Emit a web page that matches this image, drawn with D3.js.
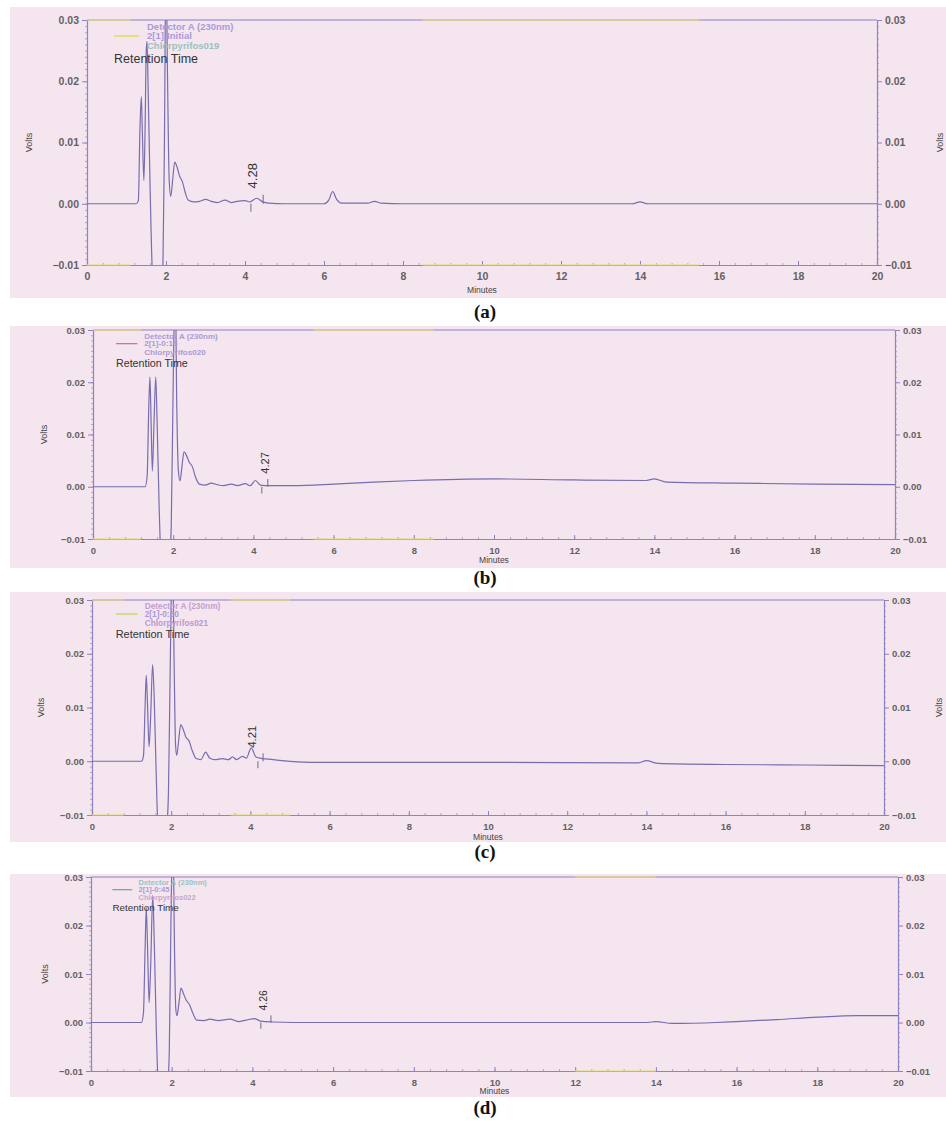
<!DOCTYPE html>
<html>
<head>
<meta charset="utf-8">
<script src="https://cdn.jsdelivr.net/npm/d3@7"></script>
<style>
  body { margin: 0; background: #fff; }
  svg { display: block; }
</style>
</head>
<body>
<div id="chart"></div>
<script>
// chromatogram traces, minutes vs volts
const minutesA = [0, 1.25, 1.30, 1.34, 1.375, 1.40, 1.44, 1.47, 1.50, 1.52, 1.55, 1.60, 1.66, 1.75, 1.85, 1.92, 1.96, 2.00, 2.04, 2.08, 2.12, 2.17, 2.22, 2.28, 2.34, 2.42, 2.48, 2.56, 2.7, 2.85, 3.0, 3.15, 3.3, 3.5, 3.65, 3.8, 4.0, 4.12, 4.3, 4.45, 4.6, 5.0, 6.0, 6.12, 6.22, 6.32, 6.45, 7.1, 7.28, 7.45, 8, 13.8, 14.0, 14.2, 20];
const voltsA = [0, 0, 0.0005, 0.012, 0.0175, 0.012, 0.0038, 0.012, 0.025, 0.0265, 0.018, 0.002, -0.012, -0.016, -0.016, -0.011, 0.01, 0.04, 0.02, 0.004, 0.0012, 0.004, 0.0068, 0.006, 0.0046, 0.0035, 0.002, 0.0006, 0.0003, 0.0004, 0.0007, 0.0004, 0.0002, 0.0006, 0.0002, 0.0004, 0.0005, 0.0003, 0.0009, 0.0003, 0.0001, 0, 0, 0.0006, 0.002, 0.0007, 0.0001, 0.0001, 0.0004, 0.0001, 0, 0, 0.0003, 0, 0];

const minutesB = [0, 1.3, 1.35, 1.39, 1.42, 1.45, 1.48, 1.52, 1.565, 1.60, 1.65, 1.70, 1.8, 1.9, 1.95, 2.0, 2.05, 2.09, 2.13, 2.17, 2.22, 2.27, 2.33, 2.4, 2.48, 2.55, 2.65, 2.8, 2.95, 3.1, 3.25, 3.45, 3.6, 3.8, 3.92, 4.05, 4.18, 4.4, 5, 6, 7, 8, 10, 12, 13.8, 14.0, 14.3, 16, 18, 20];
const voltsB = [0, 0, 0.002, 0.015, 0.021, 0.012, 0.003, 0.012, 0.021, 0.012, -0.004, -0.014, -0.016, -0.014, -0.008, 0.02, 0.04, 0.015, 0.003, 0.0011, 0.004, 0.0067, 0.006, 0.0047, 0.0038, 0.002, 0.0005, 0.0003, 0.0007, 0.0004, 0.0002, 0.0005, 0.0002, 0.0006, 0.0002, 0.0012, 0.0003, 0.0002, 0.0002, 0.0005, 0.0009, 0.0012, 0.0015, 0.0013, 0.0012, 0.0015, 0.0009, 0.0007, 0.0005, 0.0004];

const minutesC = [0, 1.25, 1.30, 1.34, 1.37, 1.40, 1.44, 1.48, 1.53, 1.57, 1.62, 1.67, 1.78, 1.88, 1.93, 1.98, 2.03, 2.08, 2.11, 2.14, 2.19, 2.24, 2.3, 2.37, 2.45, 2.53, 2.63, 2.75, 2.87, 2.97, 3.1, 3.3, 3.45, 3.55, 3.65, 3.8, 3.9, 4.02, 4.14, 4.3, 4.45, 4.8, 5.5, 10, 13.8, 14.0, 14.3, 16, 18, 20];
const voltsC = [0, 0, 0.001, 0.01, 0.016, 0.011, 0.0027, 0.008, 0.018, 0.012, -0.002, -0.013, -0.016, -0.013, -0.006, 0.02, 0.04, 0.015, 0.003, 0.0011, 0.004, 0.0068, 0.006, 0.0045, 0.0038, 0.002, 0.0005, 0.0003, 0.0017, 0.0006, 0.0003, 0.0005, 0.0003, 0.0008, 0.0003, 0.0009, 0.0006, 0.0025, 0.0008, 0.0005, 0.0004, 0.0001, -0.0002, -0.0002, -0.0003, 0.0001, -0.0004, -0.0006, -0.0007, -0.0008];

const minutesD = [0, 1.25, 1.30, 1.34, 1.37, 1.40, 1.44, 1.48, 1.53, 1.57, 1.62, 1.67, 1.8, 1.9, 1.94, 1.98, 2.03, 2.07, 2.10, 2.13, 2.18, 2.23, 2.29, 2.36, 2.44, 2.52, 2.62, 2.8, 2.95, 3.15, 3.45, 3.65, 3.85, 4.05, 4.2, 4.5, 5, 13.8, 14.0, 14.4, 15.5, 16, 17, 18, 19, 20];
const voltsD = [0, 0, 0.002, 0.015, 0.0237, 0.016, 0.0041, 0.012, 0.0262, 0.016, -0.002, -0.013, -0.016, -0.013, -0.006, 0.02, 0.04, 0.015, 0.003, 0.0014, 0.004, 0.0071, 0.006, 0.0046, 0.0037, 0.002, 0.0005, 0.0004, 0.0007, 0.0004, 0.0007, 0.0002, 0.0005, 0.0008, 0.0003, 0.0001, 0, 0, 0.0002, -0.0002, 0, 0.0002, 0.0006, 0.0011, 0.0014, 0.0014];

// labelled peak: retention time, integration start / end (minutes)
const peakLabels = ["4.28", "4.27", "4.21", "4.26"];
const peakLabelAt = [4.2, 4.29, 4.04, 4.26];
const peakStart = [4.15, 4.21, 4.19, 4.21];
const peakEnd = [4.46, 4.36, 4.32, 4.46];

const sampleNames = ["2[1]-Initial", "2[1]-0:15", "2[1]-0:30", "2[1]-0:45"];
const fileNames = ["Chlorpyrifos019", "Chlorpyrifos020", "Chlorpyrifos021", "Chlorpyrifos022"];
const panelTags = ["(a)", "(b)", "(c)", "(d)"];

const xTicks = [0, 2, 4, 6, 8, 10, 12, 14, 16, 18, 20];
const yTicks = [-0.01, 0.00, 0.01, 0.02, 0.03];

// faded yellow stretches on the printed frame (minutes)
const tintA = [[0, 1.1], [8.5, 15.5]];
const tintB = [[0, 1.2], [5.5, 8.5]];
const tintC = [[3.5, 5.0], [0, 0.8]];
const tintD = [[12, 14]];

const traces = [[minutesA, voltsA], [minutesB, voltsB], [minutesC, voltsC], [minutesD, voltsD]];
const tints = [tintA, tintB, tintC, tintD];

// page layout for the four scanned panels
const layout = [
  { bg: [7, 298], l: 87, r: 877, t: 20, b: 265, tagY: 318, sample: "#e4d64c", file: "#9cc0c0", det: "#a99bd8", volR: 940 },
  { bg: [326, 568], l: 93, r: 895, t: 330, b: 539, tagY: 584, sample: "#cf7596", file: "#ab9ad6", det: "#a99bd8", volR: null },
  { bg: [592, 842], l: 92, r: 884, t: 600, b: 815, tagY: 858, sample: "#c9d25e", file: "#b89ad0", det: "#c4a0d0", volR: 939 },
  { bg: [874, 1097], l: 91, r: 898, t: 877, b: 1071, tagY: 1114, sample: "#76a9aa", file: "#c7a8c8", det: "#98c4c4", volR: null }
];

const W = 946, H = 1124;
const svg = d3.select("#chart").append("svg")
  .attr("width", W).attr("height", H)
  .style("font-family", "'Liberation Sans', Arial, sans-serif");

const frameColor = "#8c82c4";
const traceColor = "#776db0";

layout.forEach((p, i) => {
  const k = (p.b - p.t) / 245;
  const g = svg.append("g");

  g.append("rect")
    .attr("x", 10).attr("y", p.bg[0])
    .attr("width", W - 10).attr("height", p.bg[1] - p.bg[0])
    .attr("fill", "#f5e5ef");

  const x = d3.scaleLinear().domain([0, 20]).range([p.l, p.r]);
  const y = d3.scaleLinear().domain([-0.01, 0.03]).range([p.b, p.t]);

  // minor ticks
  g.append("g")
    .attr("transform", `translate(${p.l},0)`)
    .call(d3.axisLeft(y).tickValues(d3.range(-0.01, 0.0301, 0.001)).tickSize(2).tickFormat(""))
    .call(a => a.select(".domain").remove())
    .call(a => a.selectAll("line").attr("stroke", "#b0a8cc"));
  g.append("g")
    .attr("transform", `translate(${p.r},0)`)
    .call(d3.axisRight(y).tickValues(d3.range(-0.01, 0.0301, 0.001)).tickSize(2).tickFormat(""))
    .call(a => a.select(".domain").remove())
    .call(a => a.selectAll("line").attr("stroke", "#b0a8cc"));
  g.append("g")
    .attr("transform", `translate(0,${p.b})`)
    .call(d3.axisBottom(x).tickValues(d3.range(0, 20.01, 0.4)).tickSize(-2).tickFormat(""))
    .call(a => a.select(".domain").remove())
    .call(a => a.selectAll("line").attr("stroke", "#b0a8cc"));

  // major axes
  const fs = Math.max(9.5, 10.5 * k);
  const left = g.append("g")
    .attr("transform", `translate(${p.l},0)`)
    .call(d3.axisLeft(y).tickValues(yTicks).tickSize(5).tickPadding(3).tickFormat(d3.format(".2f")));
  const right = g.append("g")
    .attr("transform", `translate(${p.r},0)`)
    .call(d3.axisRight(y).tickValues(yTicks).tickSize(5).tickPadding(3).tickFormat(d3.format(".2f")));
  const bottom = g.append("g")
    .attr("transform", `translate(0,${p.b})`)
    .call(d3.axisBottom(x).tickValues(xTicks).tickSize(-4).tickPadding(8).tickFormat(d3.format("d")));
  [left, right, bottom].forEach(a => {
    a.select(".domain").attr("stroke", frameColor).attr("stroke-width", 1.2);
    a.selectAll("line").attr("stroke", frameColor);
    a.selectAll("text").attr("fill", "#4a4a4a").attr("font-size", fs).attr("font-weight", "bold").attr("opacity", 0.85);
  });

  // top frame
  g.append("line")
    .attr("x1", p.l).attr("x2", p.r).attr("y1", p.t).attr("y2", p.t)
    .attr("stroke", frameColor).attr("stroke-width", 1.2);

  // yellowish fades on top and bottom frame lines
  tints[i].forEach(s => {
    [p.t, p.b].forEach(yy => {
      g.append("line")
        .attr("x1", x(s[0])).attr("x2", x(s[1])).attr("y1", yy).attr("y2", yy)
        .attr("stroke", "#e6df72").attr("stroke-width", 1.4).attr("opacity", 0.75);
    });
  });

  // clipped trace
  const clipId = "clip" + i;
  g.append("clipPath").attr("id", clipId)
    .append("rect").attr("x", p.l).attr("y", p.t).attr("width", p.r - p.l).attr("height", p.b - p.t);
  const pts = d3.zip(traces[i][0], traces[i][1]);
  g.append("path")
    .datum(pts)
    .attr("clip-path", `url(#${clipId})`)
    .attr("fill", "none")
    .attr("stroke", traceColor)
    .attr("stroke-width", 1.2)
    .attr("d", d3.line().x(d => x(d[0])).y(d => y(d[1])).curve(d3.curveMonotoneX));

  // peak marks and label
  g.append("line")
    .attr("x1", x(peakStart[i])).attr("x2", x(peakStart[i]))
    .attr("y1", y(0)).attr("y2", y(0) + 8 * k)
    .attr("stroke", "#6d6a90").attr("stroke-width", 1);
  g.append("line")
    .attr("x1", x(peakEnd[i])).attr("x2", x(peakEnd[i]))
    .attr("y1", y(0)).attr("y2", y(0) - 9 * k)
    .attr("stroke", "#6d6a90").attr("stroke-width", 1);
  g.append("text")
    .attr("transform", `translate(${x(peakLabelAt[i]) + 4},${y(0.0025)}) rotate(-90)`)
    .attr("font-family", "'Liberation Sans Narrow', 'Arial Narrow', 'Liberation Sans', sans-serif")
    .attr("font-size", 13 * k)
    .attr("fill", "#333")
    .text(peakLabels[i]);

  // legend block
  const lx = p.l + 60 * k;
  const lf = 9.5 * k;
  g.append("text").attr("x", lx).attr("y", p.t + 7 * k).attr("dy", "0.35em")
    .attr("font-size", lf).attr("font-weight", "bold").attr("fill", p.det).text("Detector A (230nm)");
  g.append("line")
    .attr("x1", p.l + 27 * k).attr("x2", p.l + 52 * k)
    .attr("y1", p.t + 16 * k).attr("y2", p.t + 16 * k)
    .attr("stroke", p.sample).attr("stroke-width", 1.3);
  g.append("text").attr("x", lx).attr("y", p.t + 16 * k).attr("dy", "0.35em")
    .attr("font-size", lf).attr("font-weight", "bold").attr("fill", "#a99bd8").text(sampleNames[i]);
  g.append("text").attr("x", lx).attr("y", p.t + 26 * k).attr("dy", "0.35em")
    .attr("font-size", lf).attr("font-weight", "bold").attr("fill", p.file).text(fileNames[i]);
  g.append("text").attr("x", p.l + 27 * k).attr("y", p.t + 39 * k).attr("dy", "0.35em")
    .attr("font-size", 12.5 * k).attr("fill", "#333").text("Retention Time");

  // axis titles
  g.append("text")
    .attr("transform", `translate(${p.l - 58 * k},${(p.t + p.b) / 2}) rotate(-90)`)
    .attr("text-anchor", "middle").attr("dy", "0.35em")
    .attr("font-size", 9).attr("fill", "#444").text("Volts");
  if (p.volR) {
    g.append("text")
      .attr("transform", `translate(${p.volR},${(p.t + p.b) / 2}) rotate(-90)`)
      .attr("text-anchor", "middle").attr("dy", "0.35em")
      .attr("font-size", 9).attr("fill", "#444").text("Volts");
  }
  g.append("text")
    .attr("x", (p.l + p.r) / 2).attr("y", p.b + 25 * k).attr("dy", "0.35em")
    .attr("text-anchor", "middle").attr("font-size", 8.5).attr("fill", "#444").text("Minutes");

  // panel tag
  svg.append("text")
    .attr("x", 485).attr("y", p.tagY)
    .attr("text-anchor", "middle")
    .attr("font-family", "'Liberation Serif', 'Times New Roman', serif")
    .attr("font-weight", "bold").attr("font-size", 19).attr("fill", "#111")
    .text(panelTags[i]);
});
</script>
</body>
</html>
